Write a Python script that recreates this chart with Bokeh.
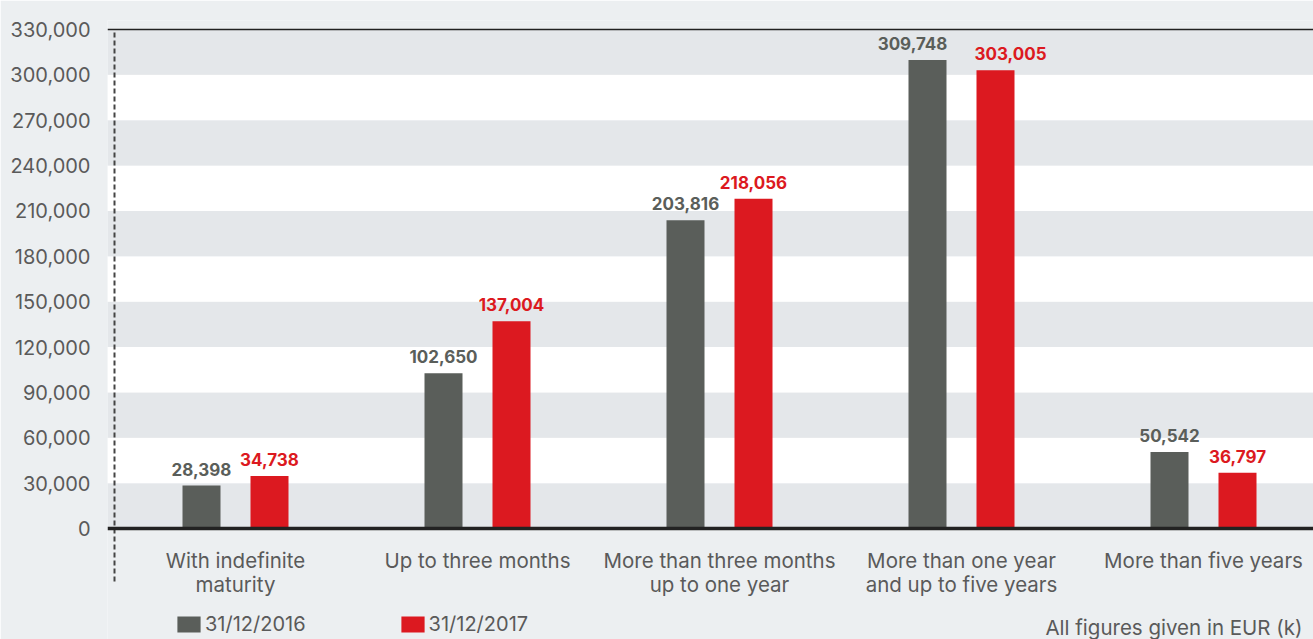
from bokeh.plotting import figure
from bokeh.models import (Range1d, FixedTicker, NumeralTickFormatter, BoxAnnotation,
                          Span, Legend, LegendItem, Label, ColumnDataSource)
from bokeh.core.properties import value
from bokeh.embed import file_html
from bokeh.resources import INLINE

# ---- data ----
categories = ["With indefinite\nmaturity", "Up to three months",
              "More than three months\nup to one year",
              "More than one year\nand up to five years", "More than five years"]
series_names = ["31/12/2016", "31/12/2017"]
values_2016 = [28398, 102650, 203816, 309748, 50542]
values_2017 = [34738, 137004, 218056, 303005, 36797]
y_ticks = [0, 30000, 60000, 90000, 120000, 150000, 180000, 210000, 240000,
           270000, 300000, 330000]
note = "All figures given in EUR (k)"

# label nudges (pixels) to avoid overlapping value labels
shift_2016 = [0, 0, 0, -15, 0]
shift_2017 = [0, 0, 0, 15, 0]

FONT = "Inter"
BG = "#eceff1"
BAND = "#e4e7ea"
GRAY = "#5a5e5a"
RED = "#dc1920"
TXT = "#5a5a5a"

W, H = 1313, 639
TOP, LEFT = 20, 107
# pixel scale: 0 at y=528, 330000 at y=29
ppu = 499 / 330000
y_end = 330000 + (29 - TOP) / ppu
y_start = -(H - 528) / ppu
x_start = (LEFT - 235) / 242
x_end = (W - 235) / 242

p = figure(width=W, height=H, output_backend="svg", toolbar_location=None,
           x_range=Range1d(x_start, x_end), y_range=Range1d(y_start, y_end),
           min_border_left=LEFT, min_border_right=0, min_border_top=TOP,
           min_border_bottom=0)
p.background_fill_color = BG
p.border_fill_color = BG
p.outline_line_color = None
p.xaxis.visible = False
p.xgrid.visible = False
p.ygrid.visible = False

yax = p.yaxis[0]
yax.ticker = FixedTicker(ticks=y_ticks)
yax.formatter = NumeralTickFormatter(format="0,0")
yax.axis_line_color = None
yax.major_tick_line_color = None
yax.minor_tick_line_color = None
yax.major_label_text_font = FONT
yax.major_label_text_font_size = "20px"
yax.major_label_text_color = TXT
yax.major_label_standoff = 11

# bands
for i in range(len(y_ticks) - 1):
    p.add_layout(BoxAnnotation(bottom=y_ticks[i], top=y_ticks[i + 1],
                               fill_color=BAND if i % 2 == 0 else "white",
                               fill_alpha=1, line_color=None, level="underlay"))

xs = list(range(len(categories)))
off = 34 / 242
bw = 38 / 242
src = ColumnDataSource(dict(
    x1=[x - off for x in xs], x2=[x + off for x in xs],
    v1=values_2016, v2=values_2017,
    l1=[f"{v:,}" for v in values_2016], l2=[f"{v:,}" for v in values_2017],
    s1=shift_2016, s2=shift_2017,
    xc=xs, cat=categories))

r1 = p.vbar(x="x1", top="v1", bottom=0, width=bw, source=src,
            fill_color=GRAY, line_color=None)
r2 = p.vbar(x="x2", top="v2", bottom=0, width=bw, source=src,
            fill_color=RED, line_color=None)

p.text(x="x1", y="v1", text="l1", source=src, text_align="center",
       text_baseline="bottom", x_offset="s1", y_offset=-10, text_font=value(FONT),
       text_font_style="bold", text_font_size="17px", text_color=GRAY)
p.text(x="x2", y="v2", text="l2", source=src, text_align="center",
       text_baseline="bottom", x_offset="s2", y_offset=-10, text_font=value(FONT),
       text_font_style="bold", text_font_size="17px", text_color=RED)

# category labels
p.text(x="xc", y=0, text="cat", source=src, text_align="center",
       text_baseline="top", y_offset=19, text_font=value(FONT),
       text_font_size="20.5px", text_color=TXT, text_line_height=0.97)

# top line and baseline
p.add_layout(Span(location=330000, dimension="width", line_color="#222222",
                  line_width=1.5))
p.add_layout(Span(location=0, dimension="width", line_color="#222222",
                  line_width=3.5))
# dashed divider
p.segment(x0=[-0.5], y0=[y_ticks[-1] - 2000], x1=[-0.5], y1=[-(582 - 528) / ppu],
          line_color="#444444", line_width=2, line_dash="5 3")

legend = Legend(items=[LegendItem(label=series_names[0], renderers=[r1]),
                       LegendItem(label=series_names[1], renderers=[r2])],
                orientation="horizontal", location=(67, 3),
                glyph_width=29, glyph_height=20, label_height=20,
                label_standoff=2, spacing=92, padding=0, margin=0,
                border_line_color=None, background_fill_alpha=0,
                label_text_font=FONT, label_text_font_size="20px",
                label_text_color=TXT)
p.add_layout(legend, "center")

p.add_layout(Label(x=(1302 - 235) / 242, y=-(627 - 528) / ppu, text=note,
                   text_align="right", text_baseline="middle", text_font=FONT,
                   text_font_size="20.5px", text_color=TXT))

open("out.html", "w").write(file_html(p, INLINE))
